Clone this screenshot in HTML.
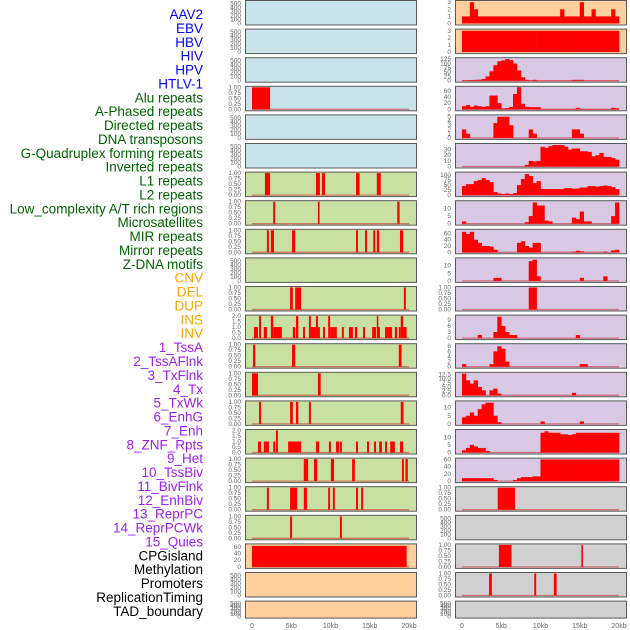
<!DOCTYPE html>
<html><head><meta charset="utf-8">
<style>
body{margin:0;background:#fff;width:630px;height:630px;overflow:hidden;font-family:"Liberation Sans",sans-serif}
svg{display:block}
</style></head>
<body>
<svg id="c" width="630" height="630"></svg>
<script>
const labels=["AAV2","EBV","HBV","HIV","HPV","HTLV-1","Alu repeats","A-Phased repeats","Directed repeats","DNA transposons","G-Quadruplex forming repeats","Inverted repeats","L1 repeats","L2 repeats","Low_complexity A/T rich regions","Microsatellites","MIR repeats","Mirror repeats","Z-DNA motifs","CNV","DEL","DUP","INS","INV","1_TssA","2_TssAFlnk","3_TxFlnk","4_Tx","5_TxWk","6_EnhG","7_Enh","8_ZNF_Rpts","9_Het","10_TssBiv","11_BivFlnk","12_EnhBiv","13_ReprPC","14_ReprPCWk","15_Quies","CPGisland","Methylation","Promoters","ReplicationTiming","TAD_boundary"];
const labelColors=[[6,"#0000ff"],[13,"#006400"],[5,"#ffa500"],[15,"#a020f0"],[5,"#000000"]];
const xTicks=[0,5,10,15,20];
const xTickLabels=["0","5kb","10kb","15kb","20kb"];
const leftBg=["#c8e3ea","#c8e3ea","#c8e3ea","#c8e3ea","#c8e3ea","#c8e3ea","#c8e0a1","#c8e0a1","#c8e0a1","#c8e0a1","#c8e0a1","#c8e0a1","#c8e0a1","#c8e0a1","#c8e0a1","#c8e0a1","#c8e0a1","#c8e0a1","#c8e0a1","#ffcf9d","#ffcf9d","#ffcf9d"];
const E=[0,100,200,300,400,500], U=[0,0.25,0.5,0.75,1], T2=[0,0.5,1,1.5,2];
const leftTicks=[E,E,E,U,E,E,U,U,U,E,U,T2,U,U,U,T2,U,U,U,[0,20,40,60],E,E];
const leftMax=[550,550,550,1,550,550,1,1,1,550,1,2,1,1,1,2,1,1,1,66,550,550];
const left3=[[0,2.3,1]];
const left6=[[1.65,2.3,1],[8.15,8.65,1],[8.9,9.3,1],[13.25,13.7,1],[15.9,16.4,1]];
const left7=[[2.7,2.95,1],[8.4,8.6,1],[18.5,18.8,1]];
const left8=[[1.9,2.15,1],[2.4,2.8,1],[5.1,5.5,1],[13.25,13.5,1],[14.4,14.65,1],[15.45,15.7,1],[15.9,16.2,1],[18.85,19.25,1]];
const left10=[[4.85,5.2,1],[5.5,6.25,1],[19.35,19.6,1]];
const left11=[[0.25,0.76,1],[0.9,1.15,2],[1.5,1.9,1],[2.4,2.7,2],[2.7,3.8,1],[5.2,5.5,1],[5.6,5.9,2],[6.5,6.75,1],[7.25,7.5,2],[7.5,8.15,1],[8.15,8.4,2],[8.4,8.65,1],[9.05,9.3,1],[9.7,9.95,2],[9.95,10.8,1],[11.45,11.7,1],[12.35,12.85,1],[13.1,13.4,1],[14.15,14.4,1],[15.3,15.8,1],[15.9,16.05,2],[16.05,16.3,1],[16.95,17.85,1],[18.2,18.5,1],[18.7,18.95,1],[18.95,19.25,2],[19.25,19.7,1]];
const left12=[[0.13,0.42,1],[5.1,5.5,1],[18.7,19.05,1]];
const left13=[[0,0.76,1],[8.4,8.75,1]];
const left14=[[0.9,1.15,1],[4.85,5.2,1],[5.6,5.9,1],[7.25,7.5,1],[18.95,19.3,1]];
const left15=[[0.76,1.15,1],[1.5,2.15,1],[2.7,2.95,1],[3.05,3.3,2],[4.6,6.25,1],[8.15,8.55,1],[9.8,10.05,1],[10.7,11.1,1],[11.2,11.45,1],[13.25,13.5,1],[14.65,14.9,1],[15.55,15.8,1],[16.2,16.55,1],[16.95,17.2,1],[17.6,18.2,1],[18.85,19.25,1]];
const left16=[[6.6,7.15,1],[7.9,8.3,1],[10.05,10.45,1],[12.75,13.1,1],[19.1,19.35,1],[19.55,19.85,1]];
const left17=[[1.9,2.15,1],[4.85,5.75,1],[6.6,7,1],[9.7,9.95,1],[10.3,10.55,1],[13.25,13.5,1],[13.9,14.15,1]];
const left18=[[4.85,5.1,1],[11.2,11.45,1]];
const left19=[[0,19.7,63]];
const leftSegs=[[],[],[],left3,[],[],left6,left7,left8,[],left10,left11,left12,left13,left14,left15,left16,left17,left18,left19,[],[]];
const rightBg=["#ffcf9d","#ffcf9d","#d8c8e4","#d8c8e4","#d8c8e4","#d8c8e4","#d8c8e4","#d8c8e4","#d8c8e4","#d8c8e4","#d8c8e4","#d8c8e4","#d8c8e4","#d8c8e4","#d8c8e4","#d8c8e4","#d8c8e4","#d0d0d0","#d0d0d0","#d0d0d0","#d0d0d0","#d0d0d0"];
const rightTicks=[[0,1,2,3],[0,1,2,3],[0,25,50,75,100,125],[0,20,40,60],[0,1,2,3,4,5],[0,10,20,30],[0,25,50,75,100],[0,5,10],[0,20,40,60],[0,5,10],U,[0,3,6,9],[0,2,4,6,8],[0,2.5,5,7.5,10,12.5],[0,5,10],[0,5,10],[0,20,40,60],U,E,U,U,E];
const rightMax=[3.1,3.1,128,72,5.2,39,110,14.5,70,14.5,1,10.8,8.6,13.2,13.5,14.5,61,1,550,1,1,550];
const r0=[1,1,3,2,1,1,1,1,1,1,1,1,1,1,1,1,1,1,1,1,1,1,1,1,1,2,1,1,1,1,3,1,1,2,1,1,1,1,2,1];
const r1=[3,3,3,3,3,3,3,3,3,3,3,3,3,3,3,3,3,3,3,3,3,3,3,3,3,3,3,3,3,3,3,3,3,3,3,3,3,3,3,3];
const r2=[2,3,4,5,6,10,25,55,90,113,118,125,120,100,60,20,5,2,5,1,1,1,1,1,1,1,1,1,5,5,5,1,1,1,1,1,1,1,1,1];
const r3=[10,14,8,12,10,8,10,45,45,20,3,4,8,50,72,18,8,7,7,7,1,1,1,1,1,1,1,1,1,5,1,1,1,1,1,1,1,1,5,3];
const r4=[2,1,0,0,0,0,0,0,3.5,5,5,5,3,0,0,0,0,2,1,0,0,0,0,0,0,0,0,0,2,2,1,0,0,0,0,0,0,0,0,0];
const r5=[0,0,0,0,0,0,0,0,0,0,0,0,0,0,0,0,3,10,9,10,35,33,36,38,38,38,35,30,32,32,27,27,26,18,20,24,17,17,15,12];
const r6=[45,55,55,70,75,85,75,65,15,8,5,8,5,10,50,80,105,95,60,70,30,30,30,30,30,30,35,35,32,33,38,38,45,45,42,45,48,45,40,30];
const r7=[1.5,0,0,0,0,0,0,0,0,0,0,0,0,0,0,0,1,5,14,12,12,2,1.5,0,0,0,0,0,4,3,8,1.5,1.5,0,0,0,0,0,5,14];
const r8=[65,58,65,40,30,20,20,18,8,0,0,0,0,0,30,35,20,15,30,30,0,0,0,0,0,0,0,0,2,5,3,0,0,0,0,0,2,0,6,8];
const r9=[0,0,0,0,0,0,0,0,2,2,0,0,0,0,0,0,0,13,14,3,0,0,0,0,0,0,0,0,0,0,2,0,0,0,0,0,3,0,0,0];
const r10=[0,0,0,0,0,0,0,0,0,0,0,0,0,0,0,0,0,1,1,0,0,0,0,0,0,0,0,0,0,0,0,0,0,0,0,0,0,0,0,0];
const r11=[0,0,0,0,1.5,0,0,0,3,10.5,6,3,1.5,1.5,0,0,0,0,0,0,0,0,0,0,0,0,0,0,0,1.5,0,0,0,0,0,0,0,0,0,0];
const r12=[1,0,0,0,0,0,0,1,6,8,7,2,0,0,0,0,0,0,0,0,0,0,0,0,0,0,0,0,0,0,1,1,0,0,0,0,0,0,0,0];
const r13=[13,9,7,9,5,3,0,3,4,1,0,0,0,0,0,0,0,0,0,0,0,0,0,0,0,0,0,0,1.5,0,0,0,0,0,0,0,0,0,0,0];
const r14=[4,5,7,5,9,12,13,13,5,1,0,0,0,0,0,0,0,0,0,0,1.5,0,0,0,0,0,0,0,0,0,1.5,0,0,0,0,0,0,0,0,0];
const r15=[1.5,3,5,4,3,3,1,0,0,0,0,0,0,0,0,0,0,0,0,0,13,14,13,13,13,12,12,11.5,12,13,13,13,13,13,13,13,13,13,13,13];
const r16=[8,8,8,8,8,8,8,8,3,0,0,0,0,3,8,11,11,11,13,13,60,60,60,60,60,60,60,60,60,60,60,60,60,60,60,60,60,60,60,60];
const rightBins=[r0,r1,r2,r3,r4,r5,r6,r7,r8,r9,r10,r11,r12,r13,r14,r15,r16];
const right17=[[4.55,6.75,1]];
const right19=[[4.7,6.3,1],[15.2,15.4,1]];
const right20=[[3.45,3.8,1],[9.2,9.45,1],[11.7,12.05,1]];
const rightSegs=[right17,[],right19,right20,[]];

const NS="http://www.w3.org/2000/svg";
const svg=document.getElementById('c');
function mk(tag,attrs,parent){const e=document.createElementNS(NS,tag);for(const k in attrs)e.setAttribute(k,attrs[k]);(parent||svg).appendChild(e);return e;}
const PITCH=28.6, H=24.5;
function rowTop(i){return i*PITCH+0.5;}
function rowH(i){return i===21?17:H;}
function xScale(colX0,kb){return colX0+7+kb*7.85;}
function yScale(i,v,max){const b=rowTop(i)+rowH(i)-1.5, t=rowTop(i)+1;return b-(v/max)*(b-t);}
function fmt(ticks,v){const m=Math.max(...ticks);if(m===1)return v.toFixed(2);if(m===2)return v.toFixed(1);if(m===12.5)return v.toFixed(1);return String(v);}

let li=0;
labelColors.forEach(([n,col])=>{for(let k=0;k<n;k++){const y=14+li*13.88;
 const t=mk('text',{x:203,y:y+5,'text-anchor':'end','font-size':'13.5',fill:col});
 t.textContent=labels[li];
 
 li++;}});

function panel(colX0,i,bg,ticks,max,side){
 const g=mk('g',{});
 
 
 mk('rect',{x:colX0+0.5,y:rowTop(i),width:171,height:rowH(i),fill:bg,stroke:'#5a5a5a','stroke-width':1},g);
 ticks.forEach(v=>{const t=mk('text',{x:colX0-4,y:yScale(i,v,max)+2,'text-anchor':'end','font-size':'6.5',fill:'#666'},g);
  t.textContent=fmt(ticks,v);
  
  });
 return g;
}
function baseline(g,colX0,i,max){mk('line',{x1:xScale(colX0,0),x2:xScale(colX0,20),y1:yScale(i,0,max),y2:yScale(i,0,max),stroke:'rgba(200,40,40,0.55)','stroke-width':1.3},g);}
function segs(g,colX0,i,arr,max){arr.forEach(s=>{const x1=xScale(colX0,s[0]),x2=xScale(colX0,s[1]);const y=yScale(i,s[2],max),y0=yScale(i,0,max);
 const r=mk('rect',{x:x1,y:y,width:Math.max(x2-x1,1.5),height:y0-y,fill:'#ff0000'},g);
 
 });}

const LX=245, RX=455;
for(let i=0;i<22;i++){
 const g=panel(LX,i,leftBg[i],leftTicks[i],leftMax[i],'left');
 if(leftSegs[i].length){baseline(g,LX,i,leftMax[i]);segs(g,LX,i,leftSegs[i],leftMax[i]);}
}
for(let i=0;i<22;i++){
 const g=panel(RX,i,rightBg[i],rightTicks[i],rightMax[i],'right');
 if(i<17){
  if(i>=2)baseline(g,RX,i,rightMax[i]);
  rightBins[i].forEach((v,b)=>{if(v<=0)return;const x1=xScale(RX,b*0.5),x2=xScale(RX,b*0.5+0.5);const y=yScale(i,v,rightMax[i]),y0=yScale(i,0,rightMax[i]);
   const r=mk('rect',{x:x1,y:y,width:x2-x1+0.3,height:y0-y,fill:'#ff0000'},g);
   
   });
 } else {
  const s=rightSegs[i-17];
  if(s.length){baseline(g,RX,i,rightMax[i]);segs(g,RX,i,s,rightMax[i]);}
 }
}
[LX,RX].forEach(cx=>{xTicks.forEach((v,k)=>{const t=mk('text',{x:xScale(cx,v),y:628,'text-anchor':'middle','font-size':'7',fill:'#666'});
 t.textContent=xTickLabels[k];
 
 });});
</script>
</body></html>
